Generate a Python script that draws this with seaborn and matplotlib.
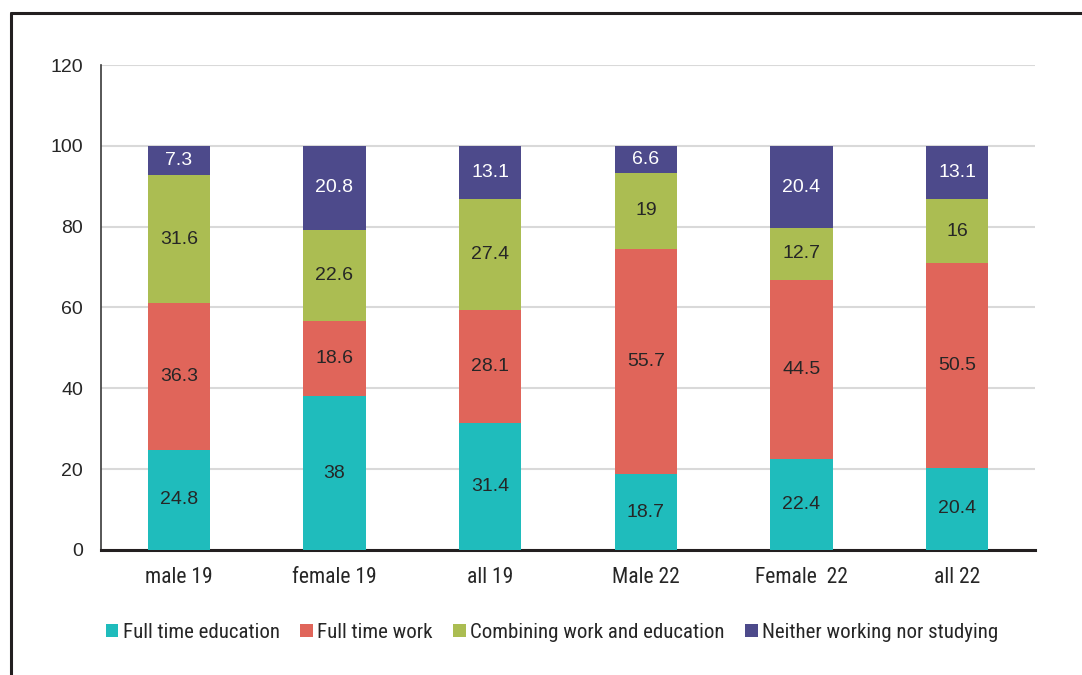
# 学習・就労状況の積み上げ棒グラフ

import pandas as pd
import seaborn as sns
import matplotlib.pyplot as plt
from matplotlib.lines import Line2D

# データ
categories = ["male 19", "female 19", "all 19", "Male 22", "Female  22", "all 22"]
series_names = ["Full time education", "Full time work",
                "Combining work and education", "Neither working nor studying"]
full_time_education = [24.8, 38, 31.4, 18.7, 22.4, 20.4]
full_time_work = [36.3, 18.6, 28.1, 55.7, 44.5, 50.5]
combining = [31.6, 22.6, 27.4, 19, 12.7, 16]
neither = [7.3, 20.8, 13.1, 6.6, 20.4, 13.1]
colors = ["#1FBCBC", "#E0655A", "#ABBD52", "#4D4A8B"]
label_colors = ["#262626", "#262626", "#262626", "white"]

df = pd.DataFrame({
    "category": categories,
    series_names[0]: full_time_education,
    series_names[1]: full_time_work,
    series_names[2]: combining,
    series_names[3]: neither,
})

sns.set_style("white")
regular = ["Liberation Sans", "DejaVu Sans"]
narrow = ["Roboto Condensed", "Liberation Sans", "DejaVu Sans"]
plt.rcParams["font.family"] = regular

fig = plt.figure(figsize=(10.82, 6.75), dpi=100)
ax = fig.add_axes([0.0933, 0.1852, 0.8633, 0.7185])

bottom = pd.Series([0.0] * len(categories))
for name, col, lcol in zip(series_names, colors, label_colors):
    sns.barplot(x="category", y=name, data=df, color=col, width=0.4, saturation=1,
                linewidth=0, bottom=bottom.values, ax=ax, label=name, zorder=3)
    cont = ax.containers[-1]
    ax.bar_label(cont, labels=[f"{v:g}" for v in df[name]], label_type="center",
                 color=lcol, fontsize=14, family=regular)
    bottom = bottom + df[name]

# 軸の設定
ax.set_ylim(0, 120)
ax.set_yticks(range(0, 121, 20))
ax.set_xlabel("")
ax.set_ylabel("")
ax.grid(axis="y", color="#d9d9d9", linewidth=1.5, zorder=0)
ax.set_axisbelow(True)
for s in ["top", "right"]:
    ax.spines[s].set_visible(False)
ax.spines["left"].set_color("#3a3a3a")
ax.spines["left"].set_linewidth(1.2)
ax.spines["bottom"].set_color("#231f20")
ax.spines["bottom"].set_linewidth(2.2)
ax.tick_params(axis="y", length=0, pad=13)
ax.tick_params(axis="x", length=0, pad=12)
for t in ax.get_yticklabels():
    t.set_fontsize(14)
    t.set_family(regular)
    t.set_color("#262626")
for t in ax.get_xticklabels():
    t.set_fontsize(15.5)
    t.set_family(narrow)
    t.set_color("#262626")
ax.set_xlim(-0.5, len(categories) - 0.5)

# 凡例
leg = ax.legend(loc="upper center", bbox_to_anchor=(0.483, -0.112), ncol=4,
                frameon=False, handlelength=0.6, handleheight=0.6,
                handletextpad=0.2, columnspacing=1.0,
                prop={"family": narrow, "size": 15})
for t in leg.get_texts():
    t.set_color("#262626")

# 外枠
fig.add_artist(Line2D([0.0102, 1.0], [0.9807, 0.9807], color="#231f20", linewidth=2.2))
fig.add_artist(Line2D([0.0102, 0.0102], [0.0, 0.9807], color="#231f20", linewidth=2.2))

fig.savefig("out.png", dpi=100)
